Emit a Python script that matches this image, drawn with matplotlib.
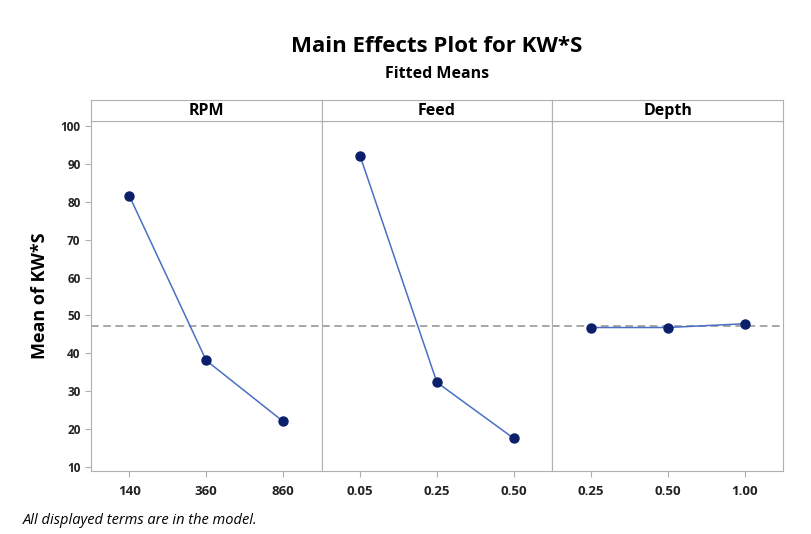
import matplotlib.pyplot as plt

# Dati
factors = ["RPM", "Feed", "Depth"]
levels = [["140", "360", "860"], ["0.05", "0.25", "0.50"], ["0.25", "0.50", "1.00"]]
means = [[81.6, 38.1, 22.0], [92.2, 32.3, 17.5], [46.8, 46.8, 47.8]]
grand_mean = 47.2
yticks = [10, 20, 30, 40, 50, 60, 70, 80, 90, 100]

plt.rcParams['font.family'] = ['Open Sans', 'DejaVu Sans']

fig = plt.figure(figsize=(8.11, 5.34), dpi=100)
fig.patch.set_facecolor('white')

left, right = 0.112, 0.9655
bottom, top = 0.118, 0.773
strip_h = 0.040
w = (right - left) / 3
edge = '#b0b0b0'

axes = []
for i, name in enumerate(factors):
    ax = fig.add_axes([left + i * w, bottom, w, top - bottom])
    x = list(range(len(levels[i])))
    ax.plot(x, means[i], '-', color='#4a6fc4', lw=1.1, zorder=2)
    ax.plot(x, means[i], 'o', color='#0b1f6b', ms=6.5, zorder=3)
    ax.axhline(grand_mean, color='#909090', ls=(0, (5, 3)), lw=1.1, zorder=1)
    ax.set_xlim(-0.5, 2.5)
    ax.set_ylim(8.9, 101.3)
    ax.set_xticks(x)
    ax.set_xticklabels(levels[i], fontsize=9.5, fontweight='bold', color='#222222')
    ax.set_yticks(yticks)
    if i == 0:
        ax.set_yticklabels([str(t) for t in yticks], fontsize=8.5, fontweight='bold', color='#222222')
        ax.set_ylabel("Mean of KW*S", fontsize=13, fontweight='bold', labelpad=8)
    else:
        ax.tick_params(axis='y', left=False, labelleft=False)
    ax.tick_params(colors=edge, labelcolor='#222222', length=4)
    ax.tick_params(axis='x', pad=6)
    for s in ax.spines.values():
        s.set_color(edge)
        s.set_linewidth(0.8)
    axes.append(ax)

    # intestazione del pannello
    st = fig.add_axes([left + i * w, top, w, strip_h])
    st.set_xticks([])
    st.set_yticks([])
    for s in st.spines.values():
        s.set_color(edge)
        s.set_linewidth(0.8)
    st.text(0.5, 0.5, name, ha='center', va='center', fontsize=11.5,
            fontweight='bold', transform=st.transAxes)

fig.text(0.5 * (left + right), 0.912, "Main Effects Plot for KW*S", ha='center',
         va='center', fontsize=16, fontweight='bold')
fig.text(0.5 * (left + right), 0.862, "Fitted Means", ha='center', va='center',
         fontsize=11.5, fontweight='bold')
fig.text(0.028, 0.026, "All displayed terms are in the model.", ha='left',
         va='center', fontsize=10.5, style='italic')

fig.savefig("out.png", dpi=100)
